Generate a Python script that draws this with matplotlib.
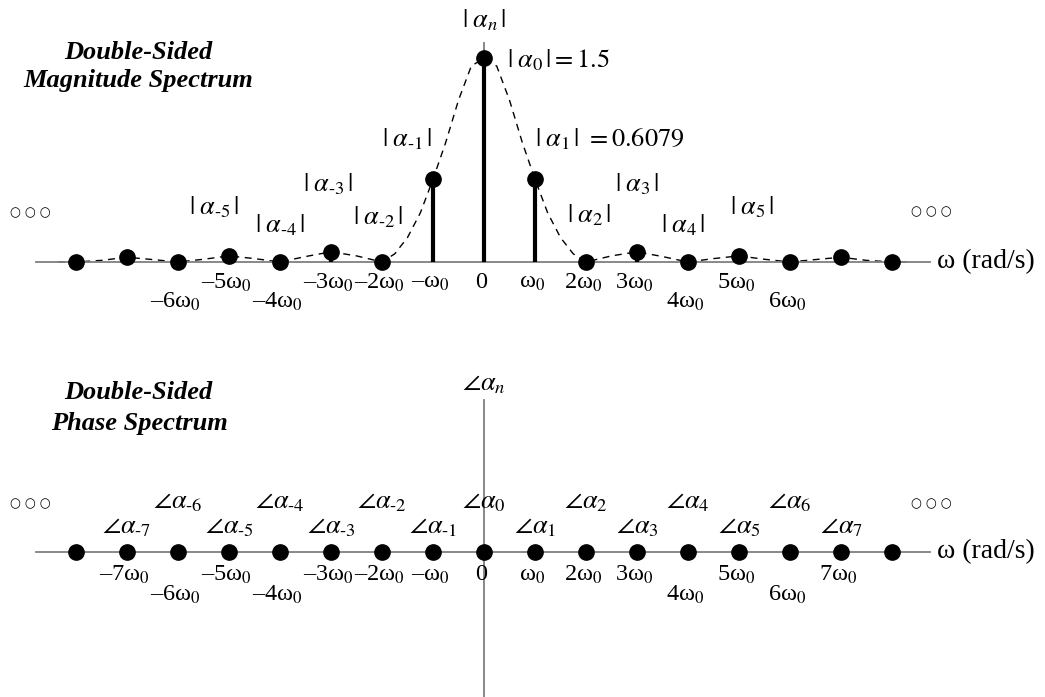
import matplotlib
matplotlib.use('Agg')
import matplotlib.pyplot as plt
import numpy as np

plt.rcParams['font.family'] = ['Liberation Serif', 'DejaVu Serif']
plt.rcParams['mathtext.fontset'] = 'stix'

# harmonic index n (multiples of w0)
n = np.arange(-8, 9)

# magnitudes |a_n| (n = 0..8), mirrored for n < 0
mag_pos = [1.5, 0.6079, 0.0, 0.075, 0.0, 0.045, 0.0, 0.035, 0.0]
mag = np.array(mag_pos[:0:-1] + mag_pos)

# dashed envelope (positive side, mirrored)
env_x_pos = [0, 0.25, 0.5, 0.75, 1.0, 1.25, 1.5, 1.75, 2.0, 2.5, 3.0, 3.5, 4.0,
             4.5, 5.0, 5.5, 6.0, 6.5, 7.0, 7.5, 8.0, 8.35]
env_y_pos = [1.5, 1.44, 1.19, 0.88, 0.6079, 0.36, 0.18, 0.06, 0.0, 0.045, 0.075, 0.04, 0.0,
             0.025, 0.045, 0.02, 0.0, 0.018, 0.035, 0.012, 0.0, 0.0]
env_x = np.array([-v for v in env_x_pos[:0:-1]] + env_x_pos)
env_y = np.array(env_y_pos[:0:-1] + env_y_pos)

# phase values (all zero as drawn)
phase = np.zeros(len(n))

HY = '\u2010'  # short hyphen used in the subscripts


def sub(k):
    return (HY + str(-k)) if k < 0 else str(k)


def wlab(k):
    if k == 0:
        return '0'
    c = '' if abs(k) == 1 else str(abs(k))
    s = '\u2013' if k < 0 else ''
    return s + c + '\u03c9$_0$'


# tick labels: (n, row)
tick_top = [(-6, 2), (-5, 1), (-4, 2), (-3, 1), (-2, 1), (-1, 1), (0, 1),
            (1, 1), (2, 1), (3, 1), (4, 2), (5, 1), (6, 2)]
tick_bot = [(-7, 1)] + tick_top + [(7, 1)]

# magnitude labels: (n, x, y, extra text, ha)
mag_labels = [
    (-5, -5.29, 0.40, '', 'center'),
    (-4, -4.0, 0.27, '', 'center'),
    (-3, -3.06, 0.57, '', 'center'),
    (-2, -2.08, 0.33, '', 'center'),
    (-1, -1.51, 0.90, '', 'center'),
    (0, 0.45, 1.485, r'= 1.5', 'left'),
    (1, 1.0, 0.90, r'\ = 0.6079', 'left'),
    (2, 2.06, 0.345, '', 'center'),
    (3, 3.0, 0.57, '', 'center'),
    (4, 3.9, 0.27, '', 'center'),
    (5, 5.25, 0.40, '', 'center'),
]

fs = 19
tkfs = 17.5
tfs = 19
dfs = 9
axis_col = '#7f7f7f'

fig = plt.figure(figsize=(10.45, 6.97), dpi=100)
ax1 = fig.add_axes([0, 347 / 697, 1, 350 / 697])
ax2 = fig.add_axes([0, 0, 1, 347 / 697])

xl = (-484 / 51, (1045 - 484) / 51)

for ax in (ax1, ax2):
    ax.set_xlim(*xl)
    ax.set_xticks([])
    ax.set_yticks([])
    for s in ('top', 'right'):
        ax.spines[s].set_visible(False)
    ax.spines['bottom'].set_position(('data', 0))
    ax.spines['left'].set_position(('data', 0))
    ax.spines['bottom'].set_color(axis_col)
    ax.spines['left'].set_color(axis_col)
    ax.spines['bottom'].set_linewidth(1.3)
    ax.spines['left'].set_linewidth(1.3)
    ax.spines['bottom'].set_bounds(-8.78, 8.75)
    ax.patch.set_alpha(0)

# ---- magnitude spectrum ----
ax1.set_ylim(-88 / 136, 262 / 136)
ax1.spines['left'].set_bounds(0, 219 / 136)
ax1.plot(env_x, env_y, color='black', lw=1.0, ls=(0, (5, 4)), zorder=2)
ax1.vlines(n, 0, mag, color='black', lw=3, zorder=3)
ax1.plot(n, mag, 'o', color='black', ms=11, zorder=4)

for k, x, y, extra, ha in mag_labels:
    ax1.text(x, y, r'$|\;\alpha_{%s}\,|%s$' % (sub(k), extra), ha=ha, va='center', fontsize=fs)
ax1.text(0, 1.78, r'$|\;\alpha_{n}\,|$', ha='center', va='center', fontsize=fs)

for k, row in tick_top:
    ax1.text(k - 0.05, -0.154 if row == 1 else -0.294, wlab(k), ha='center', va='center',
             fontsize=tkfs)

ax1.text(8.88, 0, '\u03c9 (rad/s)', ha='left', va='center', fontsize=20)
ax1.text(-8.9, 0.36, '○ ○ ○', ha='center', va='center', fontsize=dfs, family='DejaVu Sans')
ax1.text(8.78, 0.368, '○ ○ ○', ha='center', va='center', fontsize=dfs, family='DejaVu Sans')
ax1.text(-6.78, 1.544, 'Double-Sided', ha='center', va='center', fontsize=tfs,
         fontweight='bold', fontstyle='italic')
ax1.text(-6.78, 1.338, 'Magnitude Spectrum', ha='center', va='center', fontsize=tfs,
         fontweight='bold', fontstyle='italic')

# ---- phase spectrum ----
ax2.set_ylim(-145, 202)
ax2.spines['left'].set_bounds(-145, 152)
ax2.plot(n, phase, 'o', color='black', ms=11, zorder=4)

for k in n[1:-1]:
    y = 49 if k % 2 == 0 else 24
    ax2.text(k, y, r'$\angle\alpha_{%s}$' % sub(k), ha='center', va='center', fontsize=fs)
ax2.text(0, 167, r'$\angle\alpha_{n}$', ha='center', va='center', fontsize=fs)

for k, row in tick_bot:
    ax2.text(k - 0.05, -23 if row == 1 else -43, wlab(k), ha='center', va='center',
             fontsize=tkfs)

ax2.text(8.88, 0, '\u03c9 (rad/s)', ha='left', va='center', fontsize=20)
ax2.text(-8.9, 48, '○ ○ ○', ha='center', va='center', fontsize=dfs, family='DejaVu Sans')
ax2.text(8.78, 48, '○ ○ ○', ha='center', va='center', fontsize=dfs, family='DejaVu Sans')
ax2.text(-6.78, 160, 'Double-Sided', ha='center', va='center', fontsize=tfs,
         fontweight='bold', fontstyle='italic')
ax2.text(-6.76, 129, 'Phase Spectrum', ha='center', va='center', fontsize=tfs,
         fontweight='bold', fontstyle='italic')

fig.savefig('out.png', dpi=100)
